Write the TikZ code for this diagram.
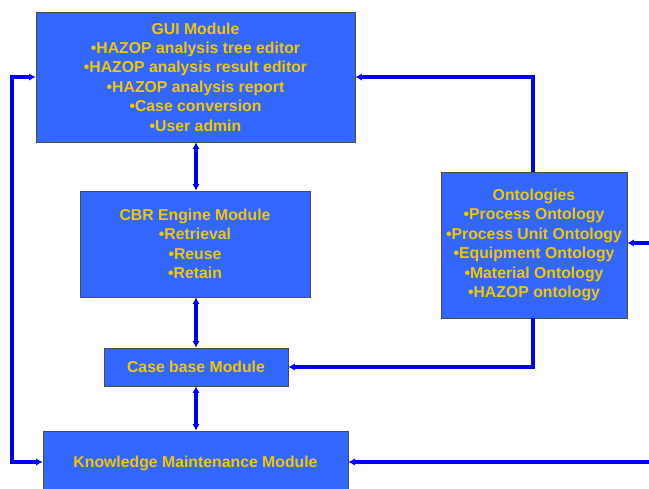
\documentclass[tikz,border=0pt]{standalone}
\usepackage{fontspec}
\setmainfont{Liberation Sans}
\usetikzlibrary{arrows.meta}
\definecolor{boxblue}{HTML}{3366FF}
\definecolor{boxtext}{HTML}{F2C800}
\definecolor{linkblue}{HTML}{0000F0}
\begin{document}
\begin{tikzpicture}[x=1pt,y=-1pt,
  module/.style={draw=black!70, line width=0.8pt, fill=boxblue, text=boxtext,
    font=\fontsize{15.8}{19.4}\selectfont\bfseries, align=center, inner sep=0pt},
  link/.style={draw=linkblue, line width=3.2pt},
  tip/.style={-{Latex[length=6.5pt,width=7.5pt]}},
  both/.style={{Latex[length=6.5pt,width=7.5pt]}-{Latex[length=6.5pt,width=7.5pt]}}]
\clip (0,0) rectangle (649,489);
\fill[white] (0,0) rectangle (649,489);

\node[module, minimum width=319pt, minimum height=130pt] (gui) at (195.5,77)
  {GUI Module\\ \textbullet HAZOP analysis tree editor\\ \textbullet HAZOP analysis result editor\\
   \textbullet HAZOP analysis report\\ \textbullet Case conversion\\ \textbullet User admin};
\node[module, minimum width=230pt, minimum height=106pt] (cbr) at (195,244)
  {CBR Engine Module\\ \textbullet Retrieval\\ \textbullet Reuse\\ \textbullet Retain};
\node[module, minimum width=186pt, minimum height=146pt] (onto) at (534,245)
  {Ontologies\\ \textbullet Process Ontology\\ \textbullet Process Unit Ontology\\
   \textbullet Equipment Ontology\\ \textbullet Material Ontology\\ \textbullet HAZOP ontology};
\node[module, minimum width=184pt, minimum height=38pt] (cb) at (196,367) {Case base Module};
\node[module, minimum width=305pt, minimum height=64pt] (km) at (195.5,463) {Knowledge Maintenance Module};

\coordinate (right1) at (652,243);
\coordinate (right2) at (652,462);

% vertical links along the module stack
\draw[link, both] (gui.south -| 196,0) -- (cbr.north -| 196,0);
\draw[link, both] (cbr.south -| 196,0) -- (cb.north -| 196,0);
\draw[link, both] (cb.south -| 196,0) -- (km.north -| 196,0);

% feedback loop on the left
\draw[link, both] (gui.west |- 0,77) -- (12,77) -- (12,462) -- (km.west |- 0,462);

% ontologies feeding the GUI and the case base
\draw[link, tip] (onto.north -| 533,0) -- (533,77) -- (gui.east |- 0,77);
\draw[link, tip] (onto.south -| 533,0) -- (533,367) -- (cb.east |- 0,367);

% external inputs entering from the right
\draw[link, tip] (right1) -- (onto.east |- right1);
\draw[link, tip] (right2) -- (km.east |- right2);
\end{tikzpicture}
\end{document}
